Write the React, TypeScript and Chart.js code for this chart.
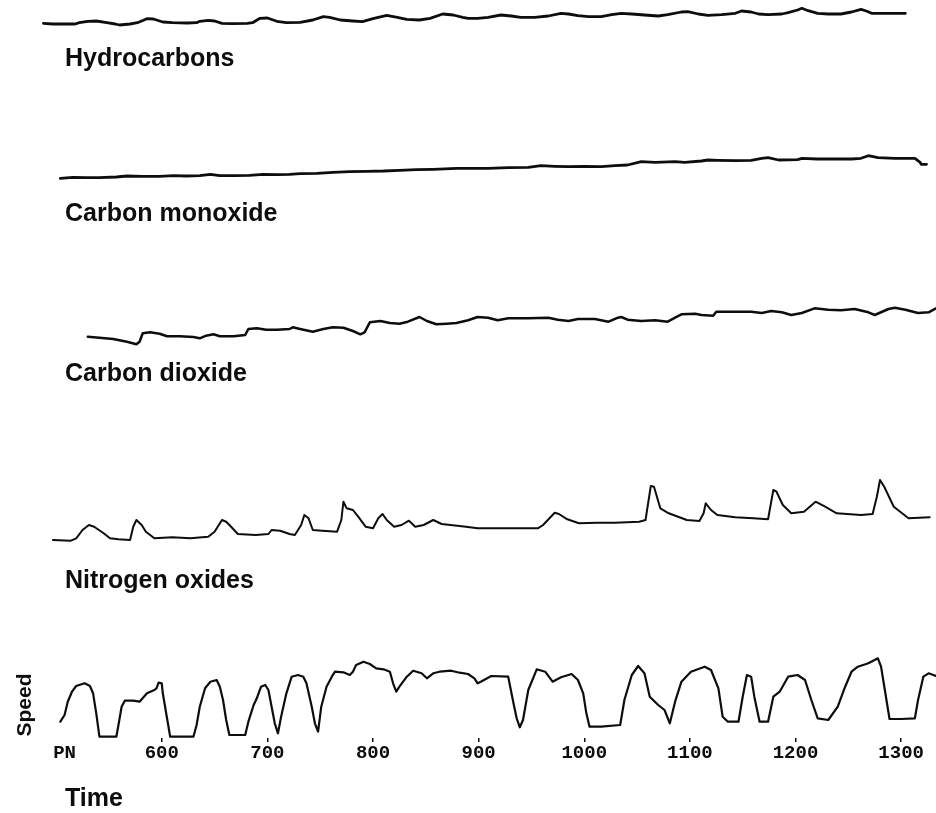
import React, { useEffect, useRef } from 'react';
import { Chart, registerables } from 'chart.js';

Chart.register(...registerables);

// [time, signal level]
const HYDROCARBONS: [number, number][] = [
  [488,1.7],[497,1],[506,1],[518,1],[522,2.3],[530,3.7],[538,4],[548,2.3],[556,1],[560,0],
  [570,1],[577,2.3],[586,6.3],[592,6],[601,3],[610,2.3],[624,2],[633,2.3],[636,3.7],[644,4.7],
  [650,4],[657,1.7],[667,1.3],[681,1.7],[686,2.3],[693,6.7],[700,7],[709,3.7],[718,2.3],[731,2.7],
  [743,5],[753,8.3],[759,7.7],[769,5],[781,4],[790,3.3],[800,6.3],[813,9.7],[823,7.7],[832,5.7],
  [844,5],[854,6.7],[866,11],[876,10],[885,7.7],[890,6.7],
  [899,6.7],[909,7.7],[921,10],[931,9],[940,7.7],[953,7.7],[966,9],[978,11.7],[985,11],[994,9.3],
  [1004,8.3],[1016,8.3],[1026,10.3],[1035,11.7],[1045,11],[1057,10],[1070,9],[1079,10.3],[1092,13],[1098,13.3],
  [1108,11],[1117,9.7],[1130,10.3],[1143,11.7],[1149,14],[1158,13],[1165,11],[1174,10.3],[1187,11],[1193,12.3],
  [1202,15],[1206,16.7],[1212,14.3],[1221,11.7],[1231,11],[1243,11],[1253,13],[1262,15.7],[1267,14],[1272,11.7],
  [1285,11.7],[1294,11.7],[1304,11.7]
];

const CARBON_MONOXIDE: [number, number][] = [
  [504,6.7],[516,7.7],[529,7.3],[541,7.3],[557,8],[567,9],[582,8.7],[598,8.7],[611,9.3],[623,9],
  [636,9.3],[646,10.7],[655,9.3],[668,9.3],[683,9.7],[696,10.7],[709,10.3],[721,10.7],[731,11.3],[747,11.7],
  [762,12.7],[778,13.3],[794,13.7],[810,14],[825,14.7],[841,15.3],[857,15.7],[879,16.7],[890,16.7],
  [909,16.7],[928,17.3],[947,17.7],[959,19.3],[972,18.7],[985,18.3],[1000,18.7],[1016,18.3],[1029,19.3],[1041,20],
  [1054,23.3],[1067,22.7],[1086,23.3],[1095,22.7],[1111,24],[1117,25],[1127,24.7],[1143,24.3],[1158,24.7],[1168,26.7],
  [1174,27.3],[1184,25],[1202,25.3],[1206,26.7],[1221,26],[1237,26],[1253,26],[1262,26.7],[1269,29.3],[1278,27.3],
  [1294,26.7],[1313,26.7],[1318,22.7],[1319,20.7],[1324,20.7]
];

const CARBON_DIOXIDE: [number, number][] = [
  [530,13.3],[541,12.3],[554,11],[567,8.3],[576,5.7],[579,8.3],[582,16.7],[589,17.7],[598,16.3],[605,13.7],
  [617,13.7],[630,13],[636,11.7],[642,14.3],[649,15.7],[655,13.7],[668,13.7],[679,15],[682,21],[690,21.7],
  [699,20.3],[709,20.3],[721,21],[724,22.7],[731,21],[743,18.3],[753,21],[762,22.7],[772,22.3],[781,19],
  [788,15.7],[792,17.7],[797,27.7],[807,29],[816,27],[825,26.3],[833,28.3],[844,33],[851,29],[860,25.7],
  [870,26.3],[879,27],[890,29.7],
  [899,33],[909,32.3],[918,29.7],[928,31.7],[947,31.7],[966,32.3],[975,30.3],[985,29],[994,31],[1010,31],
  [1023,28.3],[1032,32.3],[1035,33],[1041,30.3],[1054,29],[1067,29.7],[1079,28.3],[1086,32.3],[1092,35.7],[1105,36.3],
  [1111,35],[1122,34.3],[1125,38.3],[1143,38.3],[1158,38.3],[1168,37],[1177,39],[1187,37.7],[1196,35],[1206,37],
  [1218,41.7],[1231,40.3],[1243,39.7],[1256,41],[1269,37.7],[1275,35],[1288,41],[1294,42.3],[1304,40.3],[1316,37],
  [1326,37.7],[1333,41.7]
];

const NITROGEN_OXIDES: [number, number][] = [
  [497,10],[514,9.3],[519,11.7],[525,20],[531,25],[536,23.3],[545,16.7],[551,11.7],[559,10.7],[570,10],
  [573,23.3],[576,30],[581,25],[585,18.3],[593,11.7],[610,12.7],[627,11.7],[644,13.3],[650,18.3],[657,30],
  [661,28.3],[667,21.7],[672,16],[689,15],[701,16],[704,20],[712,19.3],[721,16],[726,15],[732,25],
  [735,35],[739,31.7],[743,20],[752,19.3],[766,18.3],[770,30],[772,48.3],[775,41.7],[781,40],[786,33.3],
  [793,23.3],[800,21.7],[805,31.7],[809,36],[813,30],[820,23.3],[827,25],[834,29.3],[840,23.3],[848,25],
  [857,30],[865,26],[888,23.3],[899,21.7],[927,21.7],[956,21.7],[961,25],[972,37.3],[976,36],[984,30.7],
  [995,26.7],[1012,27.3],[1029,27.3],[1052,28.3],[1058,30],[1063,64],[1066,63.3],[1072,41.7],[1080,36.7],[1097,30],
  [1109,29],[1113,36.7],[1115,46.7],[1120,40],[1126,35],[1143,32.7],[1160,31.7],[1174,30.7],[1179,60],[1182,58.3],
  [1188,45],[1196,36.7],[1208,38.3],[1219,48.3],[1228,43.3],[1239,36.7],[1262,35],[1273,36],[1277,53.3],[1280,70],
  [1284,63.3],[1293,43.3],[1307,31.7],[1327,32.7]
];

const SPEED: [number, number][] = [
  [504,16.3],[508,23],[511,36.3],[515,46.3],[519,52],[527,54.7],[532,52],[535,44.7],[538,24.7],[541,1.3],
  [557,1.3],[559,13],[562,31.3],[565,37.3],[573,37.3],[579,36.3],[586,44.7],[593,48],[595,49.7],[597,55.3],
  [600,54.7],[601,44.7],[605,19.7],[608,1.3],[630,1.3],[633,13],[636,31.3],[641,49.7],[646,56.3],[652,58],
  [655,51.3],[658,38],[661,18],[664,3],[679,3],[682,16.3],[687,33],[690,39.7],[694,51.3],[698,53],
  [701,48],[704,31.3],[707,14.7],[710,4.7],[713,21.3],[718,44.7],[723,61.3],[729,63],[734,61.3],[737,54.7],
  [742,31.3],[745,14.7],[748,6.3],[751,31.3],[756,51.3],[761,61.3],[764,66.3],[772,65.7],[778,63],[781,66.3],
  [784,73],[791,76.3],[797,74],[803,69.7],[810,68.7],[816,66.3],[819,54.7],[822,46.3],[825,51.3],[832,61.3],
  [838,67.3],[846,64.7],[851,59.7],[857,64.7],[863,66.3],[874,67.3],[882,65.3],[890,64],[896,59.7],[899,54.7],
  [902,56.3],[912,62],[928,61.3],[933,34.7],[936,19.7],[939,10.7],[942,18],[947,48],[955,68.7],[963,66.3],
  [970,56.3],[978,60.7],[988,64],[994,58],[999,44.7],[1002,24.7],[1005,11.3],[1016,11.3],[1034,13],[1038,38],
  [1045,63],[1051,72],[1057,64.7],[1062,41.3],[1070,33],[1076,28],[1081,14.7],[1086,36.3],[1092,56.3],[1101,66.3],
  [1114,71.3],[1120,68],[1127,49.7],[1131,21.3],[1136,16.3],[1146,16.3],[1150,41.3],[1154,63],[1158,61.3],[1161,41.3],
  [1166,16.3],[1174,16.3],[1179,41.3],[1185,46.3],[1193,61.3],[1202,63],[1209,58],[1215,38],[1221,19.7],[1231,18],
  [1240,31.3],[1247,51.3],[1253,66.3],[1259,71.3],[1269,74.7],[1278,79.7],[1281,71.3],[1289,19],[1300,19],[1313,19.7],
  [1316,38],[1321,61.3],[1326,64.7],[1333,62]
];

const TIME_TICKS = [508, 600, 700, 800, 900, 1000, 1100, 1200, 1300];
const TIME_TICK_LABELS = ['PN', '600', '700', '800', '900', '1000', '1100', '1200', '1300'];

const SERIES_NAMES = ['Hydrocarbons', 'Carbon monoxide', 'Carbon dioxide', 'Nitrogen oxides', 'Speed'];
const X_TITLE = 'Time';

const LABEL_FONT = "'Liberation Sans', Arial, Helvetica, sans-serif";

export default function App() {
  const canvasRef = useRef<HTMLCanvasElement | null>(null);

  useEffect(() => {
    const canvas = canvasRef.current;
    if (!canvas) return;
    const toXY = (pts: [number, number][]) => pts.map(([x, y]) => ({ x, y }));
    const makeSet = (label: string, pts: [number, number][], axis: string, width: number) => ({
      label,
      data: toXY(pts),
      yAxisID: axis,
      borderColor: '#0d0d0d',
      backgroundColor: '#0d0d0d',
      borderWidth: width,
      pointRadius: 0,
      tension: 0,
      fill: false,
      clip: false,
      borderJoinStyle: 'round' as const,
      borderCapStyle: 'round' as const,
    });

    const chart = new Chart(canvas, {
      type: 'line',
      data: {
        datasets: [
          makeSet(SERIES_NAMES[0], HYDROCARBONS, 'yHC', 2.8),
          makeSet(SERIES_NAMES[1], CARBON_MONOXIDE, 'yCO', 2.8),
          makeSet(SERIES_NAMES[2], CARBON_DIOXIDE, 'yCO2', 2.5),
          makeSet(SERIES_NAMES[3], NITROGEN_OXIDES, 'yNOX', 2),
          makeSet(SERIES_NAMES[4], SPEED, 'ySPD', 2.2),
        ],
      },
      options: {
        animation: false,
        responsive: true,
        maintainAspectRatio: false,
        events: [],
        layout: { padding: { left: 35, right: 0, top: 0, bottom: 0 } },
        plugins: {
          legend: { display: false },
          tooltip: { enabled: false },
          title: { display: false },
        },
        scales: {
          x: {
            type: 'linear',
            position: 'bottom',
            min: 480,
            max: 1333,
            afterBuildTicks: (scale: any) => {
              scale.ticks = TIME_TICKS.map((v) => ({ value: v }));
            },
            afterFit: (scale: any) => {
              scale.height = 75;
            },
            ticks: {
              autoSkip: false,
              maxRotation: 0,
              minRotation: 0,
              padding: 0,
              color: '#0d0d0d',
              font: { family: "'Liberation Mono', 'DejaVu Sans Mono', monospace", size: 19, weight: 'bold' },
              callback: (_v: any, i: number) => TIME_TICK_LABELS[i],
            },
            grid: {
              drawOnChartArea: false,
              drawTicks: true,
              tickLength: 4,
              lineWidth: 1.5,
              color: (ctx: any) => (ctx.index === 0 ? 'rgba(0,0,0,0)' : '#0d0d0d'),
            },
            border: { display: false },
          },
          yHC: { type: 'linear', position: 'left', stack: 'traces', stackWeight: 140, weight: 5, min: -115, max: 25, display: false },
          yCO: { type: 'linear', position: 'left', stack: 'traces', stackWeight: 150, weight: 4, min: -105, max: 45, display: false },
          yCO2: { type: 'linear', position: 'left', stack: 'traces', stackWeight: 180, weight: 3, min: -120, max: 60, display: false },
          yNOX: { type: 'linear', position: 'left', stack: 'traces', stackWeight: 180, weight: 2, min: -100, max: 80, display: false },
          ySPD: { type: 'linear', position: 'left', stack: 'traces', stackWeight: 88, weight: 1, min: 0, max: 88, display: false },
        },
      } as any,
    });
    return () => chart.destroy();
  }, []);

  const labelStyle = (top: number): React.CSSProperties => ({
    position: 'absolute',
    left: 65,
    top,
    fontFamily: LABEL_FONT,
    fontWeight: 'bold',
    fontSize: 25,
    lineHeight: '25px',
    color: '#0d0d0d',
    whiteSpace: 'nowrap',
  });

  return (
    <div style={{ position: 'absolute', left: 0, top: 0, width: 936, height: 813, background: '#ffffff', overflow: 'hidden' }}>
      <canvas ref={canvasRef} style={{ position: 'absolute', left: 0, top: 0 }} />
      <div style={labelStyle(45)}>{SERIES_NAMES[0]}</div>
      <div style={labelStyle(200)}>{SERIES_NAMES[1]}</div>
      <div style={labelStyle(360)}>{SERIES_NAMES[2]}</div>
      <div style={labelStyle(567)}>{SERIES_NAMES[3]}</div>
      <div style={labelStyle(785)}>{X_TITLE}</div>
      <div
        style={{
          position: 'absolute',
          left: -16,
          top: 693,
          width: 80,
          height: 24,
          lineHeight: '24px',
          textAlign: 'center',
          fontFamily: LABEL_FONT,
          fontWeight: 'bold',
          fontSize: 21,
          color: '#0d0d0d',
          transform: 'rotate(-90deg)',
          whiteSpace: 'nowrap',
        }}
      >
        {SERIES_NAMES[4]}
      </div>
    </div>
  );
}
